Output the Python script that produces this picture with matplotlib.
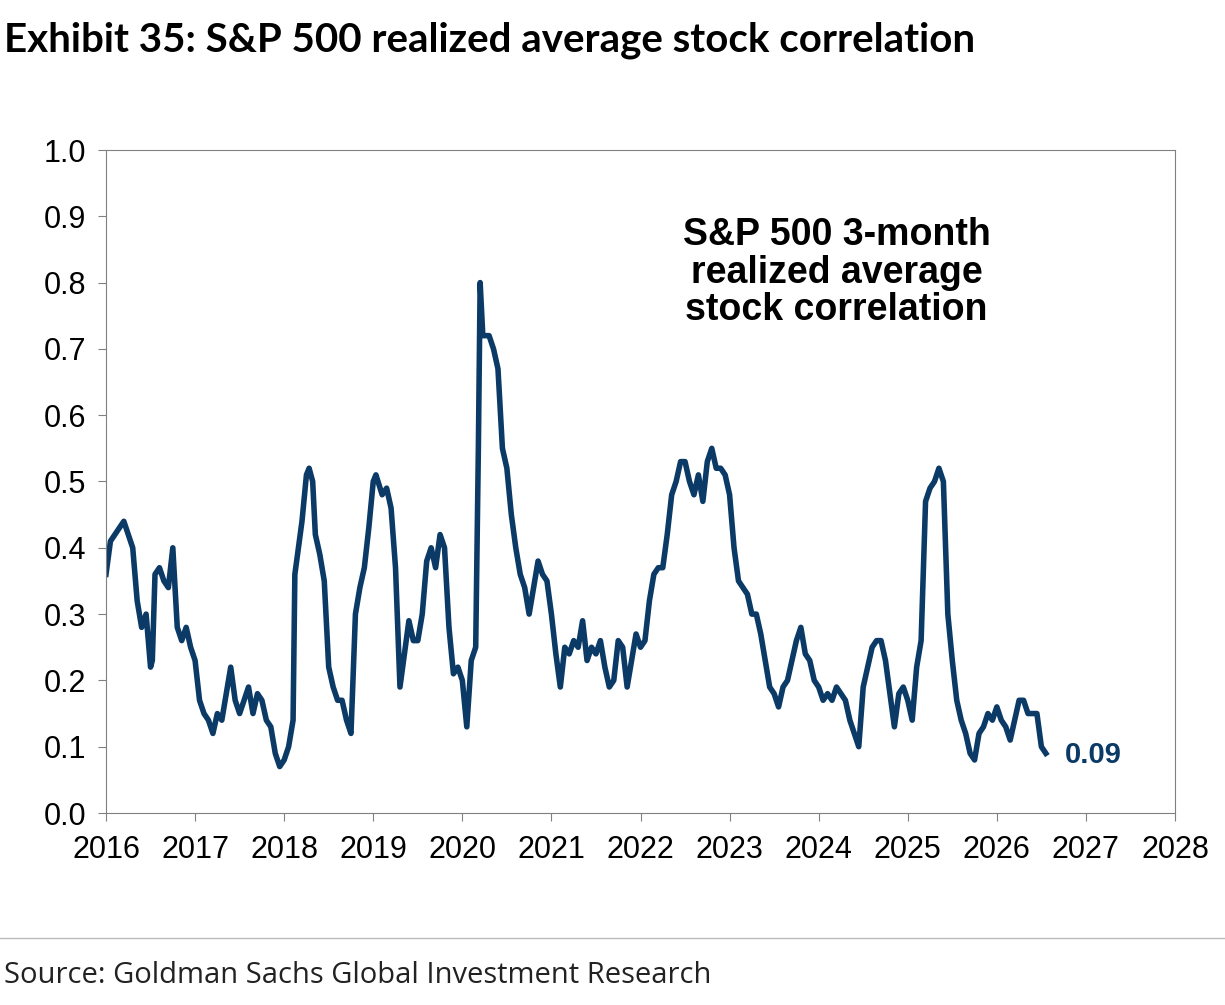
import matplotlib
matplotlib.use("Agg")
import matplotlib.pyplot as plt

years = [2016.0,2016.05,2016.1,2016.15,2016.2,2016.25,2016.3,2016.35,2016.4,2016.45,2016.5,2016.52,2016.55,2016.6,2016.65,2016.7,2016.75,2016.8,2016.85,2016.9,2016.95,
2017.0,2017.05,2017.1,2017.15,2017.2,2017.25,2017.3,2017.35,2017.4,2017.45,2017.5,2017.55,2017.6,2017.65,2017.7,2017.75,2017.8,2017.85,2017.9,2017.95,
2018.0,2018.05,2018.1,2018.12,2018.15,2018.2,2018.25,2018.28,2018.32,2018.35,2018.4,2018.45,2018.5,2018.55,2018.6,2018.65,2018.7,2018.75,2018.8,2018.85,2018.9,2018.95,
2019.0,2019.03,2019.1,2019.15,2019.2,2019.25,2019.3,2019.35,2019.4,2019.45,2019.5,2019.55,2019.6,2019.65,2019.7,2019.75,2019.8,2019.85,2019.9,2019.95,
2020.0,2020.05,2020.1,2020.15,2020.18,2020.2,2020.23,2020.3,2020.35,2020.4,2020.45,2020.5,2020.55,2020.6,2020.65,2020.7,2020.75,2020.8,2020.85,2020.9,2020.95,
2021.0,2021.05,2021.1,2021.15,2021.2,2021.25,2021.3,2021.35,2021.4,2021.45,2021.5,2021.55,2021.6,2021.65,2021.7,2021.75,2021.8,2021.85,2021.9,2021.95,
2022.0,2022.05,2022.1,2022.15,2022.2,2022.25,2022.3,2022.35,2022.4,2022.45,2022.5,2022.55,2022.6,2022.65,2022.7,2022.75,2022.8,2022.85,2022.9,2022.95,
2023.0,2023.05,2023.1,2023.15,2023.2,2023.25,2023.3,2023.35,2023.4,2023.45,2023.5,2023.55,2023.6,2023.65,2023.7,2023.75,2023.8,2023.85,2023.9,2023.95,
2024.0,2024.05,2024.1,2024.15,2024.2,2024.25,2024.3,2024.35,2024.4,2024.45,2024.5,2024.55,2024.6,2024.65,2024.7,2024.75,2024.8,2024.85,2024.9,2024.95,
2025.0,2025.05,2025.1,2025.15,2025.2,2025.25,2025.3,2025.35,2025.4,2025.45,2025.5,2025.55,2025.6,2025.65,2025.7,2025.75,2025.8,2025.85,2025.9,2025.95,
2026.0,2026.05,2026.1,2026.15,2026.2,2026.25,2026.3,2026.35,2026.4,2026.45,2026.5,2026.55]
values = [0.36,0.41,0.42,0.43,0.44,0.42,0.40,0.32,0.28,0.30,0.22,0.23,0.36,0.37,0.35,0.34,0.40,0.28,0.26,0.28,0.25,
0.23,0.17,0.15,0.14,0.12,0.15,0.14,0.18,0.22,0.17,0.15,0.17,0.19,0.15,0.18,0.17,0.14,0.13,0.09,0.07,
0.08,0.10,0.14,0.36,0.39,0.44,0.51,0.52,0.50,0.42,0.39,0.35,0.22,0.19,0.17,0.17,0.14,0.12,0.30,0.34,0.37,0.43,
0.50,0.51,0.48,0.49,0.46,0.37,0.19,0.24,0.29,0.26,0.26,0.30,0.38,0.40,0.37,0.42,0.40,0.28,0.21,0.22,
0.20,0.13,0.23,0.25,0.55,0.80,0.72,0.72,0.70,0.67,0.55,0.52,0.45,0.40,0.36,0.34,0.30,0.34,0.38,0.36,0.35,
0.30,0.24,0.19,0.25,0.24,0.26,0.25,0.29,0.23,0.25,0.24,0.26,0.22,0.19,0.20,0.26,0.25,0.19,0.23,0.27,
0.25,0.26,0.32,0.36,0.37,0.37,0.42,0.48,0.50,0.53,0.53,0.50,0.48,0.51,0.47,0.53,0.55,0.52,0.52,0.51,
0.48,0.40,0.35,0.34,0.33,0.30,0.30,0.27,0.23,0.19,0.18,0.16,0.19,0.20,0.23,0.26,0.28,0.24,0.23,0.20,
0.19,0.17,0.18,0.17,0.19,0.18,0.17,0.14,0.12,0.10,0.19,0.22,0.25,0.26,0.26,0.23,0.18,0.13,0.18,0.19,
0.17,0.14,0.22,0.26,0.47,0.49,0.50,0.52,0.50,0.30,0.23,0.17,0.14,0.12,0.09,0.08,0.12,0.13,0.15,0.14,
0.16,0.14,0.13,0.11,0.14,0.17,0.17,0.15,0.15,0.15,0.10,0.09]
x_ticks = list(range(2016, 2029))
y_ticks = [i / 10 for i in range(11)]

color = "#0b3a66"
fig = plt.figure(figsize=(12.25, 10.05), dpi=100)
ax = fig.add_axes([106/1225, 1-813/1005, (1175-106)/1225, (813-150)/1005])
ax.plot(years, values, color=color, lw=4, solid_joinstyle="round")
ax.set_xlim(2016, 2028)
ax.set_ylim(0, 1)
ax.set_xticks(x_ticks)
ax.set_xticklabels([str(t) for t in x_ticks])
ax.set_yticks(y_ticks)
ax.set_yticklabels([f"{t:.1f}" for t in y_ticks])
for lab in ax.get_xticklabels() + ax.get_yticklabels():
    lab.set_fontfamily("Liberation Sans")
    lab.set_fontsize(22)
ax.tick_params(axis="x", direction="out", length=6, pad=10, color="#808080")
ax.tick_params(axis="y", direction="out", length=6, pad=8, color="#808080")
for s in ax.spines.values():
    s.set_color("#808080")
ax.text(2026.76, 0.087, "0.09", color=color, fontsize=21, fontweight="bold",
        family="Liberation Sans", va="center")
ax.text(2024.2, 0.815, "S&P 500 3-month\nrealized average\nstock correlation",
        ha="center", va="center", fontsize=27, fontweight="bold",
        family="Liberation Sans", linespacing=1.05)
fig.text(0.003, 1-40/1005, "Exhibit 35: S&P 500 realized average stock correlation",
         fontsize=29, fontweight="bold", family="Lato", va="center")
fig.add_artist(plt.Line2D([0, 1], [1-938/1005]*2, color="#bbbbbb", lw=1))
fig.text(0.003, 1-975/1005, "Source: Goldman Sachs Global Investment Research",
         fontsize=21, family="Open Sans", va="center", color="#222222")
fig.savefig("out.png", dpi=100)
